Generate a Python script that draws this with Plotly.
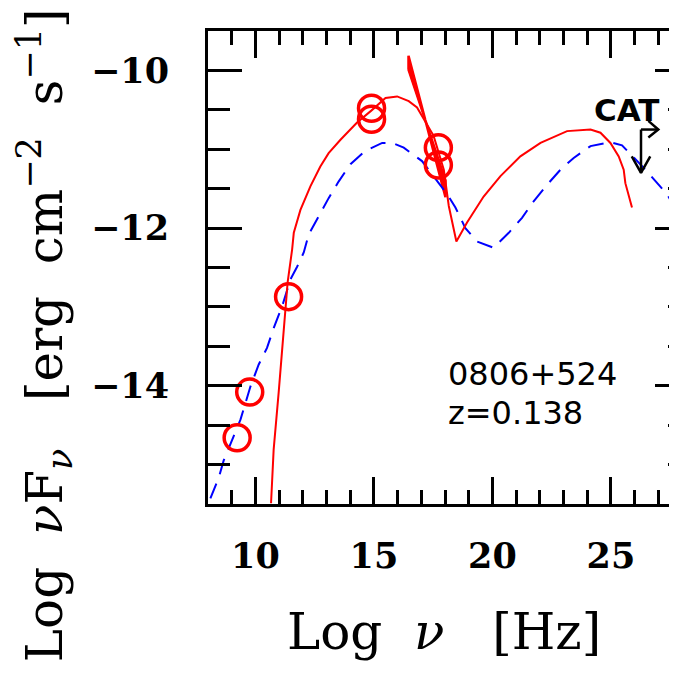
import plotly.graph_objects as go

# ---- data ----
obs_logv = [9.23, 9.76, 11.40, 14.90, 14.90, 17.72, 17.72]
obs_logf = [-14.66, -14.08, -12.87, -10.48, -10.62, -10.98, -11.20]

model_red_x = [10.66, 10.77, 10.98, 11.13, 11.27, 11.36, 11.55, 11.62, 11.90, 12.32, 12.74,
               13.09, 13.59, 14.29, 14.89, 15.49, 15.98, 16.47, 16.82, 17.52, 17.95, 18.16,
               18.48, 18.93, 19.63, 20.34, 21.18, 22.03, 23.15, 24.14, 24.56, 24.98, 25.33,
               25.54, 25.61, 25.89]
model_red_y = [-15.49, -14.81, -14.09, -13.54, -13.12, -12.69, -12.27, -12.06, -11.77, -11.47,
               -11.22, -11.05, -10.88, -10.66, -10.51, -10.35, -10.33, -10.39, -10.47, -10.83,
               -11.26, -11.72, -12.17, -11.93, -11.60, -11.34, -11.09, -10.92, -10.77, -10.75,
               -10.79, -10.92, -11.09, -11.26, -11.43, -11.74]

model_blue_x = [8.10, 8.45, 8.66, 9.02, 9.37, 9.79, 10.14, 10.49, 10.77, 11.13, 11.48, 11.76,
                12.04, 12.25, 12.67, 13.09, 13.51, 14.01, 14.64, 15.35, 15.77, 16.26, 17.03,
                17.52, 18.09, 18.44, 18.86, 19.35, 20.05, 20.69, 21.25, 21.74, 22.31, 22.87,
                23.43, 24.14, 24.98, 25.47, 26.46, 27.37, 27.81, 28.10]
model_blue_y = [-15.43, -15.17, -14.95, -14.69, -14.43, -14.01, -13.73, -13.52, -13.27, -12.99,
                -12.65, -12.49, -12.31, -12.08, -11.85, -11.62, -11.41, -11.19, -11.02, -10.92,
                -10.92, -10.98, -11.15, -11.34, -11.57, -11.74, -12.00, -12.17, -12.25, -12.06,
                -11.87, -11.66, -11.45, -11.26, -11.11, -10.96, -10.91, -10.95, -11.26, -11.57,
                -11.80, -11.98]

# X-ray bowtie: end frequencies, pivot and bounding slopes
bowtie_x_ends = [16.46, 18.02]
bowtie_pivot = (17.17, -10.63)
bowtie_slopes = [-0.90, -1.15]

# CAT upper limit
cat_x = 26.27
cat_top = -10.75
cat_bottom = -11.30

x_tickvals = [10, 15, 20, 25]
x_ticktext = ["10", "15", "20", "25"]
y_tickvals = [-14, -12, -10]
y_ticktext = ["\u221214", "\u221212", "\u221210"]

RED = "#ff0000"
BLUE = "#0000ff"

fig = go.Figure()

# bowtie polygon
px, py = bowtie_pivot
xl, xh = bowtie_x_ends
s1, s2 = bowtie_slopes
bx = [xl, xl, px, xh, xh, px, xl]
by = [py + s1 * (xl - px), py + s2 * (xl - px), py,
      py + s1 * (xh - px), py + s2 * (xh - px), py, py + s1 * (xl - px)]
fig.add_trace(go.Scatter(x=bx, y=by, mode="lines", fill="toself", fillcolor=RED,
                         line=dict(color=RED, width=2.5), hoverinfo="skip", showlegend=False))

fig.add_trace(go.Scatter(x=model_blue_x, y=model_blue_y, mode="lines",
                         line=dict(color=BLUE, width=2, dash="16px,10px"),
                         hoverinfo="skip", showlegend=False))
fig.add_trace(go.Scatter(x=model_red_x, y=model_red_y, mode="lines",
                         line=dict(color=RED, width=2), hoverinfo="skip", showlegend=False))
fig.add_trace(go.Scatter(x=obs_logv, y=obs_logf, mode="markers",
                         marker=dict(symbol="circle-open", size=26, color=RED,
                                     line=dict(color=RED, width=3.5)),
                         hoverinfo="skip", showlegend=False))

# CAT upper limit arrow (vertical + arrowhead + small flag)
ah_dx, ah_dy = 0.39, 0.21
fig.add_trace(go.Scatter(
    x=[cat_x, cat_x, None, cat_x - ah_dx, cat_x, cat_x + ah_dx, None,
       cat_x, cat_x + 0.73, None, cat_x + 0.31, cat_x + 0.73, cat_x + 0.31],
    y=[cat_top, cat_bottom, None, cat_bottom + ah_dy, cat_bottom, cat_bottom + ah_dy, None,
       cat_top, cat_top, None, cat_top + 0.11, cat_top, cat_top - 0.10],
    mode="lines", line=dict(color="black", width=2.5), hoverinfo="skip", showlegend=False))

# invisible trace to carry the right-hand tick axis
fig.add_trace(go.Scatter(x=[8], y=[-10], yaxis="y2", mode="markers",
                         marker=dict(opacity=0), hoverinfo="skip", showlegend=False))

tick_font = dict(family="DejaVu Serif", size=35, color="black", weight="bold")

fig.update_layout(
    width=674, height=673,
    margin=dict(l=200, r=0, t=23, b=177),
    paper_bgcolor="white", plot_bgcolor="white",
    xaxis=dict(range=[8, 28], tickvals=x_tickvals, ticktext=x_ticktext,
               ticks="inside", ticklen=27, tickwidth=2.5, tickcolor="black",
               minor=dict(tick0=10, dtick=1, ticks="inside", ticklen=14, tickwidth=2.5,
                          tickcolor="black"),
               showline=True, linewidth=3, linecolor="black", mirror="ticks",
               showgrid=False, zeroline=False, tickfont=tick_font,
               ticklabelstandoff=19),
    yaxis=dict(range=[-15.5, -9.5], tickvals=y_tickvals, ticktext=y_ticktext,
               ticks="inside", ticklen=34, tickwidth=2.5, tickcolor="black",
               minor=dict(tick0=-10, dtick=0.5, ticks="inside", ticklen=22, tickwidth=2.5,
                          tickcolor="black"),
               showline=True, linewidth=3, linecolor="black", mirror=False,
               showgrid=False, zeroline=False, tickfont=tick_font,
               ticklabelstandoff=29),
    yaxis2=dict(range=[-15.5, -9.5], overlaying="y", side="right",
                tickvals=y_tickvals, showticklabels=False,
                ticks="inside", ticklen=27, tickwidth=2.5, tickcolor="black",
                minor=dict(tick0=-10, dtick=0.5, ticks="inside", ticklen=14, tickwidth=2.5,
                           tickcolor="black"),
                showline=False, showgrid=False, zeroline=False),
    showlegend=False,
)

sp = "\u00a0"
fig.add_annotation(text="Log" + sp * 2 + "<i>\u03bd</i>" + sp * 3 + "[Hz]",
                   xref="paper", yref="paper", x=(444 - 208) / 474, y=0, yshift=-128,
                   xanchor="center", yanchor="middle", showarrow=False,
                   font=dict(family="DejaVu Serif", size=50, color="black"))
fig.add_annotation(text="Log" + sp * 2 + "<i>\u03bd</i>F<sub><i>\u03bd</i></sub>" + sp * 3 +
                   "[erg" + sp * 2 + "cm<sup>\u22122</sup>" + sp * 2 + "s<sup>\u22121</sup>]",
                   xref="paper", yref="paper", x=0, xshift=-163, y=0.357,
                   xanchor="center", yanchor="middle", textangle=-90, showarrow=False,
                   font=dict(family="DejaVu Serif", size=50, color="black"))

fig.add_annotation(text="0806+524", x=18.06, y=-13.85, xanchor="left", yanchor="middle",
                   showarrow=False, font=dict(family="DejaVu Sans", size=32, color="black"))
fig.add_annotation(text="z=0.138", x=18.06, y=-14.34, xanchor="left", yanchor="middle",
                   showarrow=False, font=dict(family="DejaVu Sans", size=32, color="black"))
fig.add_annotation(text="<b>CAT</b>", x=25.65, y=-10.50, xanchor="center", yanchor="middle",
                   showarrow=False, font=dict(family="DejaVu Sans", size=31, color="black"))

fig.write_html("out.html")
